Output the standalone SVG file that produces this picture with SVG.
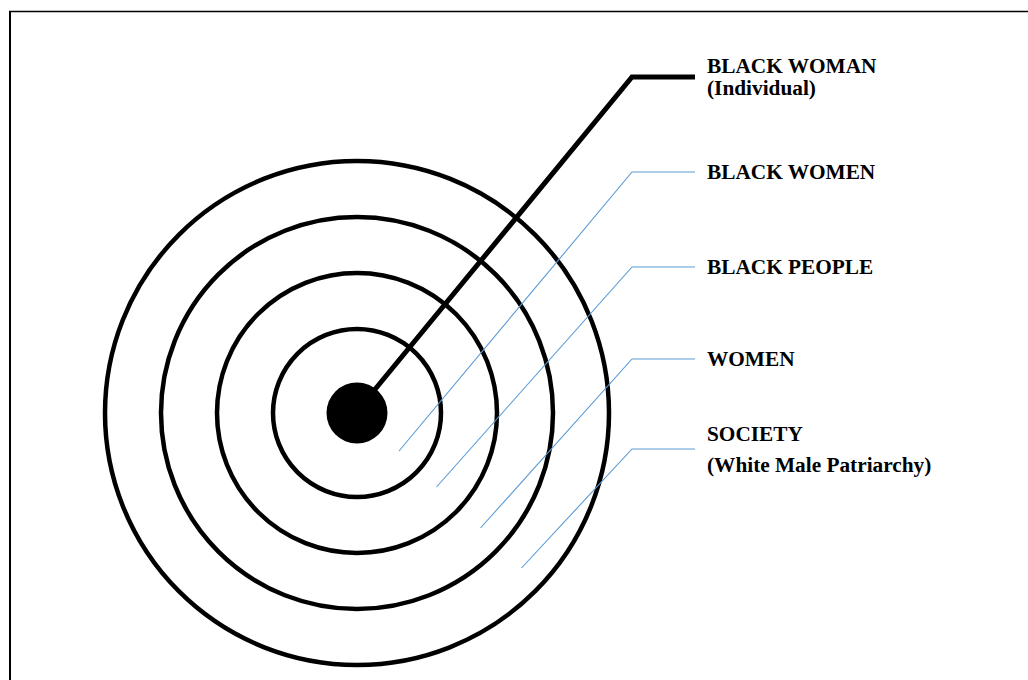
<svg xmlns="http://www.w3.org/2000/svg" width="1028" height="680" viewBox="0 0 1028 680">
<style>
.ring{fill:none;stroke:#000;stroke-width:4.5}
.lead{fill:none;stroke:#5b9bd5;stroke-width:1.1}
.main{fill:none;stroke:#000;stroke-width:5;stroke-linejoin:miter}
.lbl{font-family:"Liberation Serif","Times New Roman",serif;font-weight:bold;font-size:21.3px;fill:#000}
</style>
<rect width="1028" height="680" fill="#fff"/>
<g id="frame">
<line x1="10" y1="11" x2="10" y2="680" stroke="#000" stroke-width="2"/>
<line x1="9" y1="11.5" x2="1028" y2="11.5" stroke="#000" stroke-width="1.6"/>
</g>
<g id="society"><circle class="ring" cx="357" cy="413" r="252"/></g>
<g id="women"><circle class="ring" cx="357" cy="413" r="196"/></g>
<g id="black-people"><circle class="ring" cx="357" cy="413" r="140"/></g>
<g id="black-women"><circle class="ring" cx="357" cy="413" r="84"/></g>
<g id="black-woman"><circle cx="357" cy="413" r="30.5" fill="#000"/></g>
<g id="connectors">
<polyline class="main" points="372,393 632,77 695,77"/>
<polyline class="lead" points="399,451 632,172 695,172"/>
<polyline class="lead" points="436.5,487 632,267 695,267"/>
<polyline class="lead" points="480.5,528 632,359 695,359"/>
<polyline class="lead" points="521.5,568 632,449 695,449"/>
</g>
<g id="labels">
<text class="lbl" x="707" y="73">BLACK WOMAN</text>
<text class="lbl" x="707" y="95">(Individual)</text>
<text class="lbl" x="707" y="179">BLACK WOMEN</text>
<text class="lbl" x="707" y="274">BLACK PEOPLE</text>
<text class="lbl" x="707" y="366">WOMEN</text>
<text class="lbl" x="707" y="441">SOCIETY</text>
<text class="lbl" x="707" y="472">(White Male Patriarchy)</text>
</g>
</svg>
